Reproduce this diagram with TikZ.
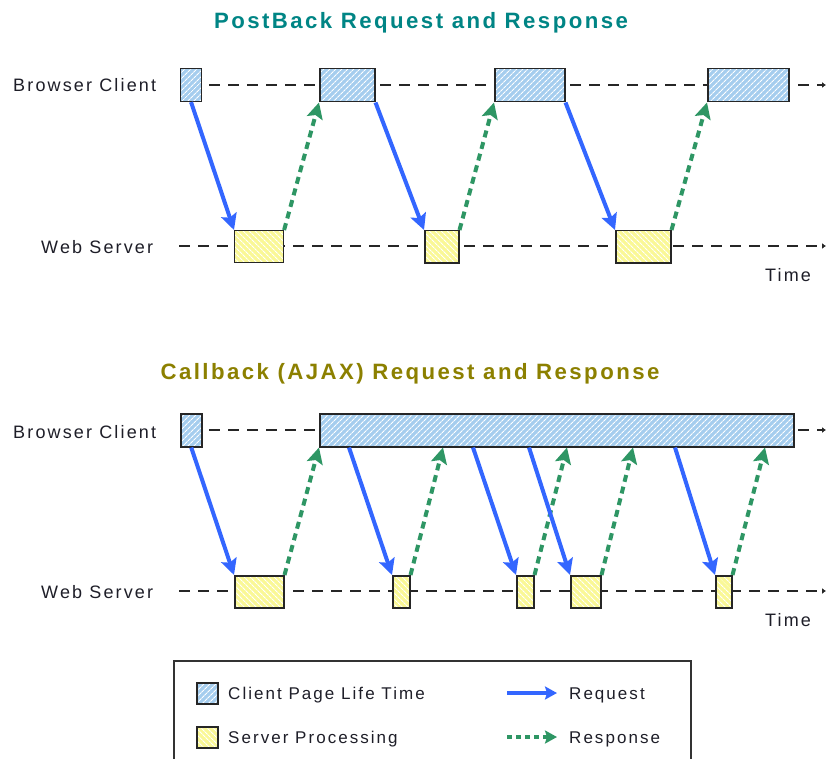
\documentclass[tikz,border=0pt]{standalone}
\usepackage{fontspec}
\setmainfont{Liberation Sans}
\newfontfamily\lsfont[LetterSpace=12]{Liberation Sans}
\newfontfamily\ttlfont[LetterSpace=11]{Liberation Sans}
\usetikzlibrary{patterns.meta,arrows.meta}
\definecolor{reqblue}{RGB}{51,102,255}
\definecolor{resgreen}{RGB}{46,150,100}
\definecolor{cfill}{RGB}{165,205,238}
\definecolor{sfill}{RGB}{250,248,150}
\definecolor{ttlteal}{RGB}{0,133,133}
\definecolor{ttlolive}{RGB}{140,128,0}
\definecolor{txt}{RGB}{30,30,40}
\tikzset{
  cbox/.style={draw=black!85, line width=1.5pt, inner sep=0pt, anchor=north west,
    preaction={fill=cfill}, pattern={Lines[angle=45,distance=4pt,line width=1.1pt]}, pattern color=white},
  sbox/.style={draw=black!85, line width=1.5pt, inner sep=0pt, anchor=north west,
    preaction={fill=sfill}, pattern={Lines[angle=-45,distance=4pt,line width=1.1pt]}, pattern color=white},
  req/.style={draw=reqblue, line width=4pt, -{Stealth[length=16pt,width=16pt,inset=3pt]}},
  resp/.style={draw=resgreen, line width=4pt, dash pattern=on 7pt off 5pt, -{Stealth[length=16pt,width=16pt,inset=3pt]}},
  legreq/.style={draw=reqblue, line width=3.4pt, -{Stealth[length=12pt,width=13pt,inset=2pt]}},
  legresp/.style={draw=resgreen, line width=3.4pt, dash pattern=on 5pt off 4pt, -{Stealth[length=12pt,width=13pt,inset=2pt]}},
  timeline/.style={draw=black!85, line width=1.4pt, dash pattern=on 11pt off 8pt, -{Latex[length=4pt,width=6pt]}},
  lbl/.style={inner sep=0pt, anchor=base west, text=txt, font=\lsfont\fontsize{18pt}{20pt}\selectfont},
  leglbl/.style={inner sep=0pt, anchor=base west, text=txt, font=\lsfont\fontsize{17pt}{20pt}\selectfont},
  ttl/.style={inner sep=0pt, anchor=base, font=\ttlfont\bfseries\fontsize{22.2pt}{24pt}\selectfont},
}
\begin{document}
\begin{tikzpicture}[x=1pt,y=-1pt]
\useasboundingbox[fill=white] (0,0) rectangle (829,759);

% ---------- Titles ----------
\node[ttl, text=ttlteal] (t1) at (421,29) {PostBack Request and Response};
\node[ttl, text=ttlolive] (t2) at (410,379) {Callback (AJAX) Request and Response};

% ---------- Top diagram ----------
\node[lbl] (bcl1) at (13,92) {Browser Client};
\node[lbl] (wsl1) at (41,254) {Web Server};
\node[lbl] (tm1) at (765,281) {Time};

\coordinate (cl1s) at (190,85);
\coordinate (cl1e) at (826,85);
\coordinate (sl1s) at (179,246);
\coordinate (sl1e) at (826,246);
\draw[timeline] (cl1s) -- (cl1e);
\draw[timeline] (sl1s) -- (sl1e);

\node[cbox, minimum width=21pt, minimum height=33pt] (c1) at (180,68) {};
\node[cbox, minimum width=55pt, minimum height=33pt] (c2) at (319,68) {};
\node[cbox, minimum width=70pt, minimum height=33pt] (c3) at (494,68) {};
\node[cbox, minimum width=81pt, minimum height=33pt] (c4) at (707,68) {};

\node[sbox, minimum width=49pt, minimum height=32pt] (s1) at (234,230) {};
\node[sbox, minimum width=34pt, minimum height=32pt] (s2) at (424,230) {};
\node[sbox, minimum width=55pt, minimum height=32pt] (s3) at (615,230) {};

\draw[req] (c1.south) -- (s1.north west);
\draw[resp] (s1.north east) -- (c2.south west);
\draw[req] (c2.south east) -- (s2.north west);
\draw[resp] (s2.north east) -- (c3.south west);
\draw[req] (c3.south east) -- (s3.north west);
\draw[resp] (s3.north east) -- (c4.south west);

% ---------- Bottom diagram ----------
\node[lbl] (bcl2) at (13,438) {Browser Client};
\node[lbl] (wsl2) at (41,598) {Web Server};
\node[lbl] (tm2) at (765,626) {Time};

\coordinate (cl2s) at (190,430);
\coordinate (cl2e) at (826,430);
\coordinate (sl2s) at (179,591);
\coordinate (sl2e) at (826,591);
\draw[timeline] (cl2s) -- (cl2e);
\draw[timeline] (sl2s) -- (sl2e);

\node[cbox, minimum width=21pt, minimum height=33pt] (bc1) at (180,413) {};
\node[cbox, minimum width=474pt, minimum height=33pt] (bc2) at (319,413) {};

\node[sbox, minimum width=49pt, minimum height=32pt] (bs1) at (234,575) {};
\node[sbox, minimum width=17pt, minimum height=32pt] (bs2) at (392,575) {};
\node[sbox, minimum width=17pt, minimum height=32pt] (bs3) at (516,575) {};
\node[sbox, minimum width=30pt, minimum height=32pt] (bs4) at (570,575) {};
\node[sbox, minimum width=16pt, minimum height=32pt] (bs5) at (715,575) {};

\draw[req] (bc1.south) -- (bs1.north west);
\draw[resp] (bs1.north east) -- (bc2.south west);
\draw[req] ([xshift=30pt]bc2.south west) -- (bs2.north west);
\draw[resp] (bs2.north east) -- ([xshift=124pt]bc2.south west);
\draw[req] ([xshift=154pt]bc2.south west) -- (bs3.north west);
\draw[resp] (bs3.north east) -- ([xshift=248pt]bc2.south west);
\draw[req] ([xshift=210pt]bc2.south west) -- (bs4.north west);
\draw[resp] (bs4.north east) -- ([xshift=314pt]bc2.south west);
\draw[req] ([xshift=356pt]bc2.south west) -- (bs5.north west);
\draw[resp] (bs5.north east) -- ([xshift=446pt]bc2.south west);

% ---------- Legend ----------
\draw[line width=1.4pt, draw=black!80] (174,775) -- (174,661) -- (691,661) -- (691,775);
\node[cbox, minimum width=21pt, minimum height=21pt] (lc) at (196,682) {};
\node[sbox, minimum width=21pt, minimum height=21pt] (ls) at (196,726) {};
\node[leglbl] (lct) at (228,699) {Client Page Life Time};
\node[leglbl] (lst) at (228,743) {Server Processing};
\coordinate (lr1) at (507,693);
\coordinate (lr2) at (557,693);
\coordinate (lp1) at (507,737);
\coordinate (lp2) at (557,737);
\draw[legreq] (lr1) -- (lr2);
\draw[legresp] (lp1) -- (lp2);
\node[leglbl] (lrt) at (569,699) {Request};
\node[leglbl] (lpt) at (569,743) {Response};
\end{tikzpicture}
\end{document}
